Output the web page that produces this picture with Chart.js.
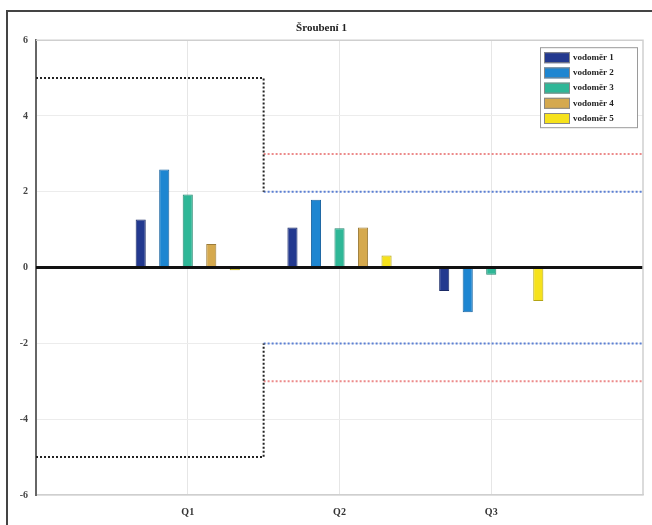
<!DOCTYPE html>
<html>
<head>
<meta charset="utf-8">
<script src="https://cdn.jsdelivr.net/npm/chart.js@4.4.1/dist/chart.umd.min.js"></script>
<style>
  html, body { margin: 0; padding: 0; background: #fff; }
  #wrap { position: relative; width: 652px; height: 525px; }
  #frame { position: absolute; left: 6px; top: 10px; right: 0; bottom: 0;
           border-top: 2px solid #444; border-left: 2px solid #444; }
  canvas { position: absolute; left: 0; top: 0; }
</style>
</head>
<body>
<div id="wrap">
  <div id="frame"></div>
  <canvas id="chart" width="652" height="525"></canvas>
</div>
<script>
// kategorie na ose x (pozice 1, 2, 3 na ose 0..4)
var categories = ['Q1', 'Q2', 'Q3'];
var categoryPos = [1, 2, 3];
var seriesNames = ['vodoměr 1', 'vodoměr 2', 'vodoměr 3', 'vodoměr 4', 'vodoměr 5'];
var seriesColors = ['#23398f', '#1e86d1', '#2fb797', '#d5a94e', '#f6e21c'];
var seriesEdges = ['#1a2a66', '#1863a0', '#23866f', '#9c7c3a', '#b3a414'];

// hodnoty pro Q1, Q2, Q3
var vodomer1 = [1.27, 1.06, -0.62];
var vodomer2 = [2.59, 1.79, -1.18];
var vodomer3 = [1.93, 1.04, -0.19];
var vodomer4 = [0.62, 1.06, 0];
var vodomer5 = [-0.07, 0.32, -0.88];
var seriesValues = [vodomer1, vodomer2, vodomer3, vodomer4, vodomer5];

// meze (x v jednotkách osy 0..4)
var limitBlackUpper = [[0, 5], [1.5, 5], [1.5, 2]];
var limitBlackLower = [[0, -5], [1.5, -5], [1.5, -2]];
var limitRed = [3, -3];
var limitBlue = [2, -2];
var limitStart = 1.5, limitEnd = 4;

var yTicks = [-6, -4, -2, 0, 2, 4, 6];

function pts(arr) {
    return arr.map(function (p) { return { x: p[0], y: p[1] }; });
}

function limitLine(data, color) {
    return {
        type: 'line',
        data: data,
        borderColor: color,
        borderWidth: 2,
        borderDash: [2, 2],
        pointRadius: 0,
        fill: false,
        order: 0
    };
}

var datasets = [];

// nulová čára
datasets.push({
    type: 'line',
    data: pts([[0, 0], [4, 0]]),
    borderColor: '#111', borderWidth: 3, pointRadius: 0, order: 0
});
datasets.push(limitLine(pts(limitBlackUpper), '#222'));
datasets.push(limitLine(pts(limitBlackLower), '#222'));
limitRed.forEach(function (v) {
    datasets.push(limitLine(pts([[limitStart, v], [limitEnd, v]]), '#ec8a8a'));
});
limitBlue.forEach(function (v) {
    datasets.push(limitLine(pts([[limitStart, v], [limitEnd, v]]), '#5b7fd3'));
});

// sloupce
seriesNames.forEach(function (name, i) {
    datasets.push({
        type: 'bar',
        label: name,
        data: seriesValues[i].map(function (v, j) { return { x: categoryPos[j], y: v }; }),
        backgroundColor: seriesColors[i],
        borderColor: seriesEdges[i],
        borderWidth: 1,
        categoryPercentage: 0.775,
        barPercentage: 0.43,
        order: 1
    });
});

// legenda uvnitř grafu + rámeček plochy
var insideLegend = {
    id: 'insideLegend',
    afterDraw: function (chart) {
        var ctx = chart.ctx, a = chart.chartArea;
        ctx.save();
        ctx.strokeStyle = '#cfcfcf';
        ctx.lineWidth = 1.5;
        ctx.beginPath();
        ctx.moveTo(a.left, a.top);
        ctx.lineTo(a.right, a.top);
        ctx.lineTo(a.right, a.bottom);
        ctx.stroke();

        var bx = a.right - 103, by = a.top + 7, bw = 97, bh = 80;
        ctx.fillStyle = '#fff';
        ctx.fillRect(bx, by, bw, bh);
        ctx.strokeStyle = '#9a9a9a';
        ctx.lineWidth = 1;
        ctx.strokeRect(bx + 0.5, by + 0.5, bw, bh);
        ctx.font = 'bold 9px "Liberation Serif", serif';
        ctx.textBaseline = 'middle';
        seriesNames.forEach(function (name, i) {
            var cy = by + 10 + i * 15.2;
            ctx.fillStyle = seriesColors[i];
            ctx.fillRect(bx + 4, cy - 5, 26, 11);
            ctx.strokeStyle = '#888';
            ctx.strokeRect(bx + 4.5, cy - 4.5, 25, 10);
            ctx.fillStyle = '#222';
            ctx.fillText(name, bx + 33, cy + 0.5);
        });
        ctx.restore();
    }
};

var ctx = document.getElementById('chart').getContext('2d');
var myChart = new Chart(ctx, {
    data: {
        datasets: datasets
    },
    options: {
        responsive: false,
        animation: false,
        layout: { padding: { left: 0, right: 9, top: 0, bottom: 0 } },
        scales: {
            x: {
                type: 'linear',
                min: 0,
                max: 4,
                offset: false,
                afterBuildTicks: function (s) {
                    s.ticks = categoryPos.map(function (v) { return { value: v }; });
                },
                grid: { color: '#e6e6e6', drawTicks: false, offset: false },
                border: { color: '#cfcfcf', width: 1.5 },
                ticks: {
                    padding: 11,
                    color: '#333',
                    font: { family: '"Liberation Serif", serif', size: 10, weight: 'bold' },
                    callback: function (v) {
                        var k = categoryPos.indexOf(v);
                        return k >= 0 ? categories[k] : '';
                    }
                },
                afterFit: function (s) { s.height = 30; }
            },
            y: {
                min: -6,
                max: 6,
                afterBuildTicks: function (s) {
                    s.ticks = yTicks.map(function (v) { return { value: v }; });
                },
                grid: { color: '#ececec', drawTicks: false },
                border: { color: '#666', width: 2 },
                ticks: {
                    padding: 8,
                    color: '#444',
                    font: { family: '"Liberation Serif", serif', size: 10, weight: 'bold' }
                },
                afterFit: function (s) { s.width = 36; }
            }
        },
        plugins: {
            legend: { display: false },
            tooltip: { enabled: false },
            title: {
                display: true,
                text: 'Šroubení 1',
                color: '#222',
                font: { family: '"Liberation Serif", serif', size: 11, weight: 'bold' },
                padding: { top: 22, bottom: 5 }
            }
        }
    },
    plugins: [insideLegend]
});
</script>
</body>
</html>
